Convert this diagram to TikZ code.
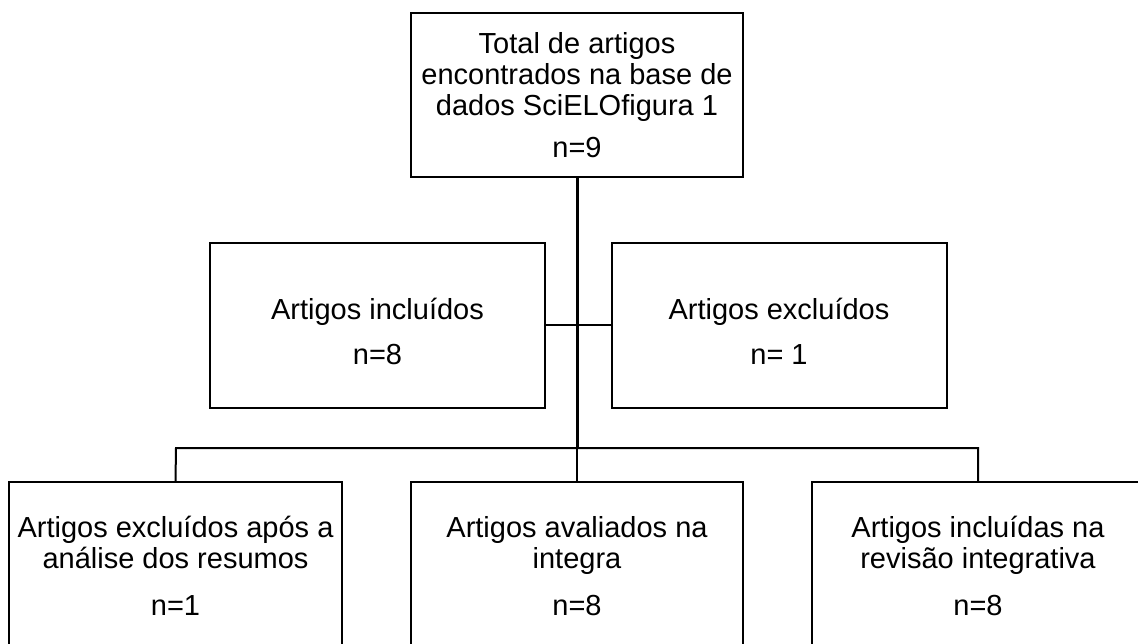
\documentclass[tikz,border=0pt]{standalone}
\usepackage{fontspec}
\setmainfont{Liberation Sans}
\begin{document}
\begin{tikzpicture}[x=1pt,y=-1pt,
  box/.style={draw, line width=2pt, inner sep=0pt},
  txt/.style={inner sep=0pt, align=center, font=\fontsize{29}{31}\selectfont},
  conn/.style={line width=2pt},
  spine/.style={line width=3pt}]
\useasboundingbox (0,0) rectangle (1138,644);
\clip (0,0) rectangle (1138,644);
\node[box, minimum width=331.5pt, minimum height=164.5pt] (top) at (577,95) {};
\node[txt] (topt) at (577,95)
  {Total de artigos\\encontrados na base de\\dados SciELOfigura 1\\[11pt]n=9};
\node[box, minimum width=335pt, minimum height=165pt] (inc) at (377.5,325.5) {};
\node[box, minimum width=335pt, minimum height=165pt] (exc) at (779,325.5) {};
\node[txt] (inct) at (377.5,331) {Artigos incluídos\\[14pt]n=8};
\node[txt] (exct) at (779,331) {Artigos excluídos\\[14pt]n=\ 1};
\node[box, minimum width=333pt, minimum height=300pt] (b1) at (175.5,632) {};
\node[box, minimum width=332pt, minimum height=300pt] (b2) at (577,632) {};
\node[box, minimum width=332pt, minimum height=300pt] (b3) at (978,632) {};
\node[txt] (b1t) at (175.5,566) {Artigos excluídos após a\\análise dos resumos\\[16pt]n=1};
\node[txt] (b2t) at (577,566) {Artigos avaliados na\\integra\\[16pt]n=8};
\node[txt] (b3t) at (978,566) {Artigos incluídas na\\revisão integrativa\\[16pt]n=8};
\coordinate (busL) at (176,448);
\coordinate (busM) at (577,448);
\coordinate (busR) at (978,448);
\draw[conn] (inc.east) -- (exc.west);
\draw[conn] (b1.north) -- (busL) -- (busR) -- (b3.north);
\draw[conn] (b2.north) -- (busM);
\draw[spine] (top.south) -- (busM);
\end{tikzpicture}
\end{document}
